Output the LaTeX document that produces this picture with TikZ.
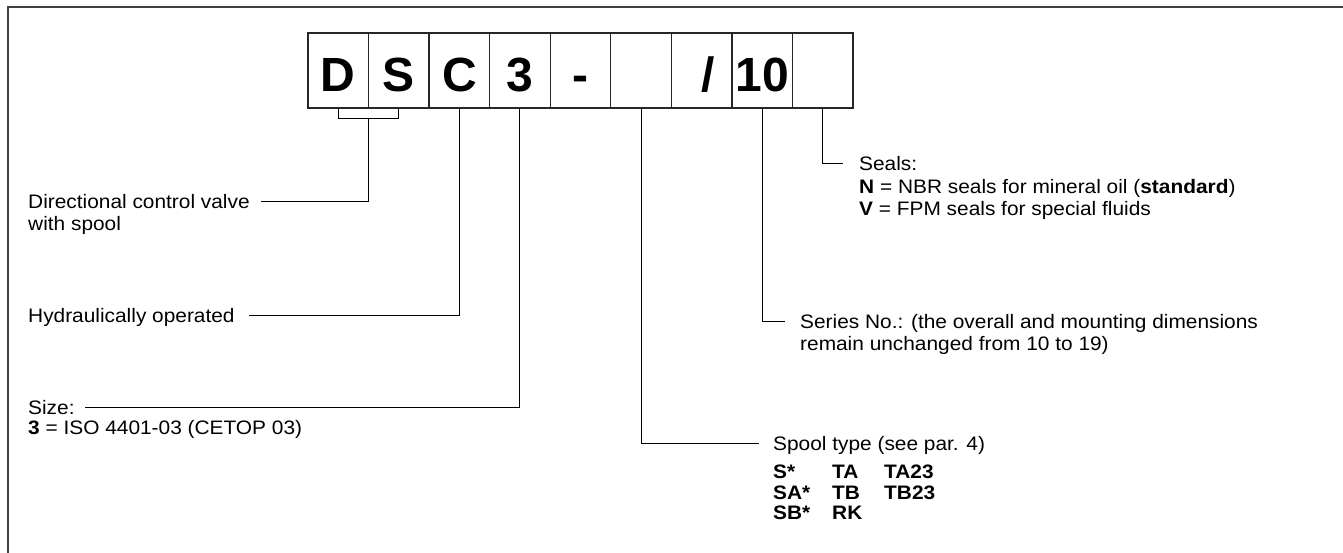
\documentclass[tikz,border=0pt]{standalone}
\usepackage{fontspec}
\setmainfont{Liberation Sans}
\newfontfamily\lblfont{Liberation Sans}[FakeStretch=1.07]
\usetikzlibrary{calc}
\newcommand{\lowr}[1]{\raisebox{-4.2pt}{#1}}
\begin{document}
\begin{tikzpicture}[x=1pt,y=-1pt,
  cell/.style={draw=black!85, line width=1.3pt, minimum width=60.56pt, minimum height=75pt, inner sep=0pt, text height=34.4pt, text depth=0pt, font=\fontsize{48}{48}\selectfont\bfseries},
  lbl/.style={inner sep=0pt, anchor=west, text height=14pt, text depth=0pt, font=\lblfont\fontsize{19.5}{22}\selectfont},
  tbl/.style={inner sep=0pt, anchor=base west, font=\lblfont\fontsize{19.5}{20.5}\selectfont\bfseries},
  conn/.style={line width=1pt, draw=black},
  framestyle/.style={line width=2pt, draw=black!75}]
\useasboundingbox (0,0) rectangle (1343,552);
\draw[framestyle] (7.5,560) -- (7.5,6.5) -- (1350,6.5);
% code boxes
\node[cell] (c1) at (338.28,70.5) {\lowr{D}};
\node[cell] (c2) at (398.84,70.5) {\lowr{S}};
\node[cell] (c3) at (459.40,70.5) {\lowr{C}};
\node[cell] (c4) at (519.96,70.5) {\lowr{3}};
\node[cell] (c5) at (580.52,70.5) {\lowr{-}};
\node[cell] (c6) at (641.08,70.5) {};
\node[cell] (c7) at (701.64,70.5) {\hspace*{13pt}\lowr{/}};
\node[cell] (c8) at (762.20,70.5) {\lowr{10}};
\node[cell] (c9) at (822.76,70.5) {};
% labels
\node[lbl] (dir1) at (28,201) {Directional control valve};
\node[lbl] (dir2) at (28,223) {with spool};
\node[lbl] (hyd) at (28,315) {Hydraulically operated};
\node[lbl] (size1) at (28,407) {Size:};
\node[lbl] (size2) at (28,427) {\textbf{3} = ISO 4401-03 (CETOP 03)};
\node[lbl] (seals1) at (859,163) {Seals:};
\node[lbl] (seals2) at (859,186) {\textbf{N} = NBR seals for mineral oil (\textbf{standard})};
\node[lbl] (seals3) at (859,208) {\textbf{V} = FPM seals for special fluids};
\node[lbl] (ser1) at (800,321) {Series No.: (the overall and mounting dimensions};
\node[lbl] (ser2) at (800,343) {remain unchanged from 10 to 19)};
\node[lbl] (spool) at (773,443) {Spool type (see par. 4)};
\node[tbl] (spooltab) at (773,478.5) {\begin{tabular}[t]{@{}p{59pt}@{}p{52pt}@{}l@{}}S* & TA & TA23\\ SA* & TB & TB23\\ SB* & RK & \end{tabular}};
% connectors
\coordinate (brk) at ($(c1.south)!0.5!(c2.south)+(0,10)$);
\draw[conn] (c1.south) -- ++(0,10) -| (c2.south);
\draw[conn] (brk) |- ([xshift=11pt]dir1.east);
\draw[conn] (c3.south) |- ([xshift=14pt]hyd.east);
\draw[conn] (c4.south) |- ([xshift=10pt]size1.east);
\draw[conn] (c6.south) |- ([xshift=-14pt]spool.west);
\draw[conn] (c8.south) |- ([xshift=-15pt]ser1.west);
\draw[conn] (c9.south) |- ([xshift=-16pt]seals1.west);
\end{tikzpicture}
\end{document}
